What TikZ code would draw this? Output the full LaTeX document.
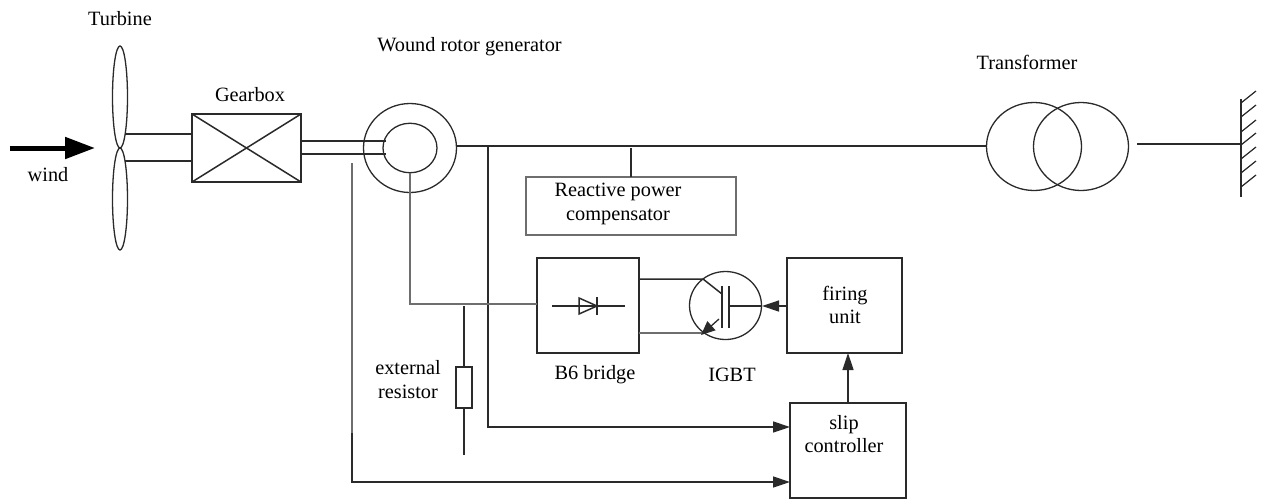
\documentclass[tikz,border=0pt]{standalone}
\usepackage{fontspec}
\setmainfont{Liberation Serif}
\usetikzlibrary{shapes.geometric,arrows.meta}
\definecolor{ink}{HTML}{2A2A2A}
\definecolor{soft}{HTML}{6E6E6E}
\tikzset{
  x=1pt,y=-1pt,
  wire/.style={draw=ink,line width=1.5pt},
  softwire/.style={draw=soft,line width=1.2pt},
  box/.style={draw=ink,line width=1.5pt,rectangle,inner sep=0pt,outer sep=0pt},
  oval/.style={draw=ink,line width=1.3pt,ellipse,inner sep=0pt,outer sep=0pt},
  lbl/.style={font=\fontsize{20.3}{23.5}\selectfont,text=black,align=center,inner sep=0pt},
  tip/.style={-{Triangle[length=17pt,width=11pt]}},
}
\begin{document}
\begin{tikzpicture}
\useasboundingbox (0,0) rectangle (1261,499);
% turbine
\node[oval,minimum width=15pt,minimum height=102pt] (bladeU) at (120,97) {};
\node[oval,minimum width=15pt,minimum height=102pt] (bladeL) at (120,199) {};
\coordinate (windS) at (10,148);
\coordinate (windE) at (95,148);
\draw[draw=black,line width=5pt,-{Triangle[length=30pt,width=21pt]}] (windS) -- (windE);
% gearbox
\node[box,minimum width=109pt,minimum height=68pt] (gear) at (246.5,148) {};
\draw[wire] (gear.north west) -- (gear.south east);
\draw[wire] (gear.south west) -- (gear.north east);
\coordinate (hubA) at (125,134);
\coordinate (hubB) at (125,161);
\draw[wire] (hubA) -- (hubA -| gear.west);
\draw[wire] (hubB) -- (hubB -| gear.west);
% generator
\node[oval,minimum width=93pt,minimum height=89pt] (stator) at (410,148) {};
\node[oval,minimum width=54pt,minimum height=49.5pt] (rotor) at (410,148) {};
\coordinate (shA) at (386,141);
\coordinate (shB) at (386,154);
\draw[wire] (shA) -- (shA -| gear.east);
\draw[wire] (shB) -- (shB -| gear.east);
% transformer
\node[oval,minimum width=95pt,minimum height=88pt] (trL) at (1034,146.5) {};
\node[oval,minimum width=95pt,minimum height=88pt] (trR) at (1081,146.5) {};
\coordinate (bus) at (456.5,146);
\draw[wire] (bus) -- (trL.west |- bus);
% grid
\coordinate (wallT) at (1241,99);
\coordinate (wallB) at (1241,197);
\coordinate (gridS) at (1137,144);
\draw[draw=ink,line width=2.2pt] (wallT) -- (wallB);
\draw[wire] (gridS) -- (gridS -| wallT);
\foreach \y in {103,117,132,145,159,173,187}
  \draw[draw=ink,line width=1.2pt] (1241,\y) -- ++(15,-12);
% compensator
\node[box,draw=soft,minimum width=210pt,minimum height=58pt] (comp) at (631,206) {};
\coordinate (compTap) at (631,148);
\draw[wire] (comp.north) -- (compTap);
% B6 bridge
\node[box,minimum width=102pt,minimum height=95pt] (b6) at (588,305.5) {};
\coordinate (dA) at (552,306);
\coordinate (dB) at (625,306);
\draw[wire] (dA) -- (dB);
\draw[wire] (579,298) -- (579,314) -- (597,306) -- cycle;
\draw[wire] (597,297) -- (597,315);
% IGBT
\node[oval,minimum width=72pt,minimum height=68pt] (igbt) at (725.5,305.5) {};
\coordinate (col) at (703,279);
\coordinate (colI) at (722,294);
\coordinate (emi) at (702,333);
\coordinate (emiI) at (719,319);
\coordinate (emiT) at (701,335);
\draw[wire] (col -| b6.east) -- (col) -- (colI);
\draw[softwire] (emi -| b6.east) -- (emi);
\draw[draw=ink,line width=1.3pt,-{Triangle[length=14pt,width=12pt]}] (emiI) -- (emiT);
\draw[wire] (722,286) -- (722,328);
\draw[wire] (729,286) -- (729,328);
% firing unit
\node[box,minimum width=115pt,minimum height=95pt] (fire) at (844.5,305.5) {};
\draw[wire] (729,306) -- (762,306);
\draw[draw=ink,line width=1.3pt,tip] (fire.west |- 0,306) -- (762,306);
% slip controller
\node[box,minimum width=116pt,minimum height=95pt] (slip) at (848,450.5) {};
\draw[draw=ink,line width=1.3pt,tip] (slip.north -| 848,0) -- (848,353);
% signal wires
\coordinate (tapA) at (488,146);
\draw[wire,tip] (tapA) -- (488,427) -- (slip.west |- 0,427);
\coordinate (tapB) at (352,163);
\coordinate (tapC) at (352,433);
\draw[softwire] (tapB) -- (tapC);
\draw[wire,tip] (tapC) -- (352,482) -- (slip.west |- 0,482);
% rotor circuit
\draw[softwire] (rotor.south) -- (410,304) -- (b6.west |- 0,304);
% resistor
\node[box,minimum width=16pt,minimum height=41pt] (res) at (464,387.5) {};
\coordinate (resT) at (464,306);
\coordinate (resB) at (464,455);
\draw[draw=ink,line width=2pt] (resT) -- (res.north);
\draw[draw=ink,line width=2pt] (res.south) -- (resB);
% labels
\node[lbl] (tTurb) at (120,19) {Turbine};
\node[lbl] (tWind) at (48,175) {wind};
\node[lbl] (tGear) at (250,95) {Gearbox};
\node[lbl] (tGen) at (469.5,47) {Wound rotor generator};
\node[lbl] (tTr) at (1027,62) {Transformer};
\node[lbl] (tComp) at (618,204) {Reactive power\\compensator};
\node[lbl] (tRes) at (408,379.5) {external\\resistor};
\node[lbl] (tB6) at (595,375) {B6 bridge};
\node[lbl] (tIgbt) at (732,375) {IGBT};
\node[lbl] (tFire) at (845,305) {firing\\unit};
\node[lbl] (tSlip) at (844,434) {slip\\controller};
\end{tikzpicture}
\end{document}
